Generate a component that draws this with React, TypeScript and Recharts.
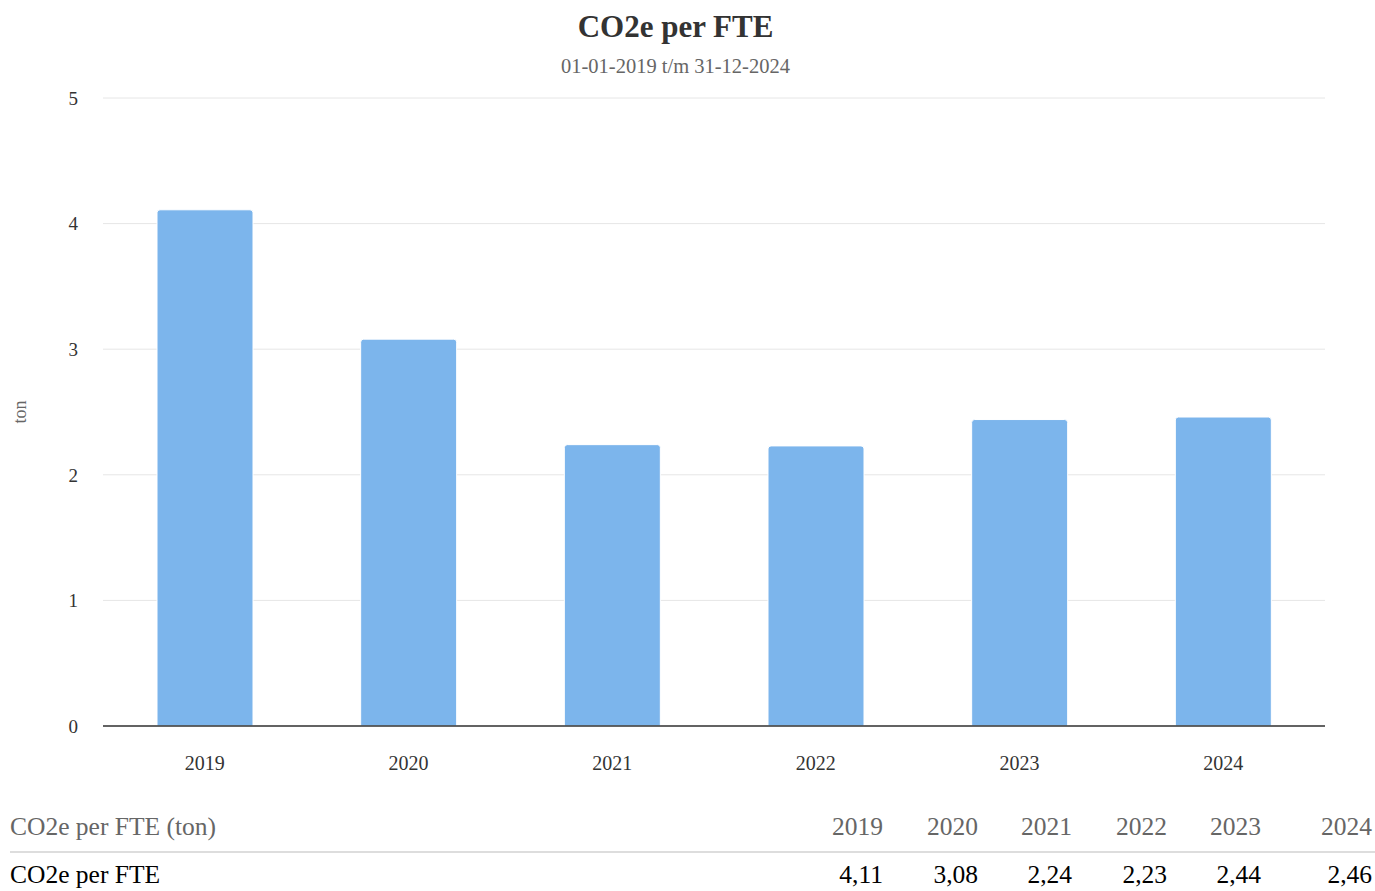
import { BarChart, Bar, XAxis, YAxis, CartesianGrid } from 'recharts';

const years = ['2019', '2020', '2021', '2022', '2023', '2024'];
const co2ePerFte = [4.11, 3.08, 2.24, 2.23, 2.44, 2.46];
const yTicks = [0, 1, 2, 3, 4, 5];

const data = years.map((year, i) => ({ year, value: co2ePerFte[i] }));

const font = '"Liberation Serif", "Times New Roman", serif';

// right edges of the table columns
const colRight = [883, 978, 1072, 1167, 1261, 1372];

const TonLabel = (props: any) => {
    const vb = props.viewBox || { x: 0, y: 0, width: 0, height: 0 };
    const cx = vb.x + 20;
    const cy = vb.y + vb.height / 2;
    return (
        <text
            x={cx}
            y={cy}
            transform={`rotate(-90 ${cx} ${cy})`}
            textAnchor="middle"
            dominantBaseline="central"
            fill="#666"
            fontSize={18}
            fontFamily={font}
        >
            ton
        </text>
    );
};

export default function App() {
    return (
        <div
            style={{
                position: 'relative',
                width: 1375,
                height: 891,
                fontFamily: font,
                overflow: 'hidden',
            }}
        >
            <style>{'body{margin:0}'}</style>
            <div
                style={{
                    position: 'absolute',
                    top: 11,
                    left: 0,
                    width: 1351,
                    textAlign: 'center',
                    fontSize: 31,
                    lineHeight: 1,
                    fontWeight: 'bold',
                    color: '#333',
                }}
            >
                CO2e per FTE
            </div>
            <div
                style={{
                    position: 'absolute',
                    top: 56,
                    left: 0,
                    width: 1351,
                    textAlign: 'center',
                    fontSize: 20.5,
                    lineHeight: 1,
                    color: '#666',
                }}
            >
                01-01-2019 t/m 31-12-2024
            </div>
            <div style={{ position: 'absolute', top: 0, left: 0 }}>
                <BarChart
                    width={1375}
                    height={790}
                    data={data}
                    margin={{ top: 98, right: 50, bottom: 14, left: 0 }}
                >
                    <CartesianGrid
                        vertical={false}
                        stroke="#e6e6e6"
                        strokeWidth={1}
                    />
                    <XAxis
                        dataKey="year"
                        height={50}
                        axisLine={{ stroke: '#333', strokeWidth: 1.5 }}
                        tickLine={false}
                        tickSize={0}
                        tickMargin={30}
                        tick={{ fill: '#333', fontSize: 20, fontFamily: font }}
                    />
                    <YAxis
                        width={103}
                        domain={[0, 5]}
                        ticks={yTicks}
                        axisLine={false}
                        tickLine={false}
                        tickSize={0}
                        tickMargin={25}
                        tick={{ fill: '#333', fontSize: 19, fontFamily: font }}
                        label={<TonLabel />}
                    />
                    <Bar
                        dataKey="value"
                        fill="#7cb5ec"
                        stroke="#fff"
                        strokeWidth={1}
                        barSize={96}
                        radius={[3, 3, 0, 0]}
                        isAnimationActive={false}
                    />
                </BarChart>
            </div>
            <div
                style={{
                    position: 'absolute',
                    top: 814,
                    left: 10,
                    fontSize: 25.5,
                    lineHeight: 1,
                    color: '#666',
                }}
            >
                CO2e per FTE (ton)
            </div>
            {years.map((y, i) => (
                <div
                    key={y}
                    style={{
                        position: 'absolute',
                        top: 814,
                        left: colRight[i] - 90,
                        width: 90,
                        textAlign: 'right',
                        fontSize: 25.5,
                        lineHeight: 1,
                        color: '#666',
                    }}
                >
                    {y}
                </div>
            ))}
            <div
                style={{
                    position: 'absolute',
                    top: 851,
                    left: 10,
                    width: 1365,
                    height: 2,
                    background: '#ddd',
                }}
            />
            <div
                style={{
                    position: 'absolute',
                    top: 862,
                    left: 10,
                    fontSize: 25.5,
                    lineHeight: 1,
                    color: '#000',
                }}
            >
                CO2e per FTE
            </div>
            {co2ePerFte.map((v, i) => (
                <div
                    key={years[i]}
                    style={{
                        position: 'absolute',
                        top: 862,
                        left: colRight[i] - 90,
                        width: 90,
                        textAlign: 'right',
                        fontSize: 25.5,
                        lineHeight: 1,
                        color: '#000',
                    }}
                >
                    {v.toFixed(2).replace('.', ',')}
                </div>
            ))}
        </div>
    );
}
